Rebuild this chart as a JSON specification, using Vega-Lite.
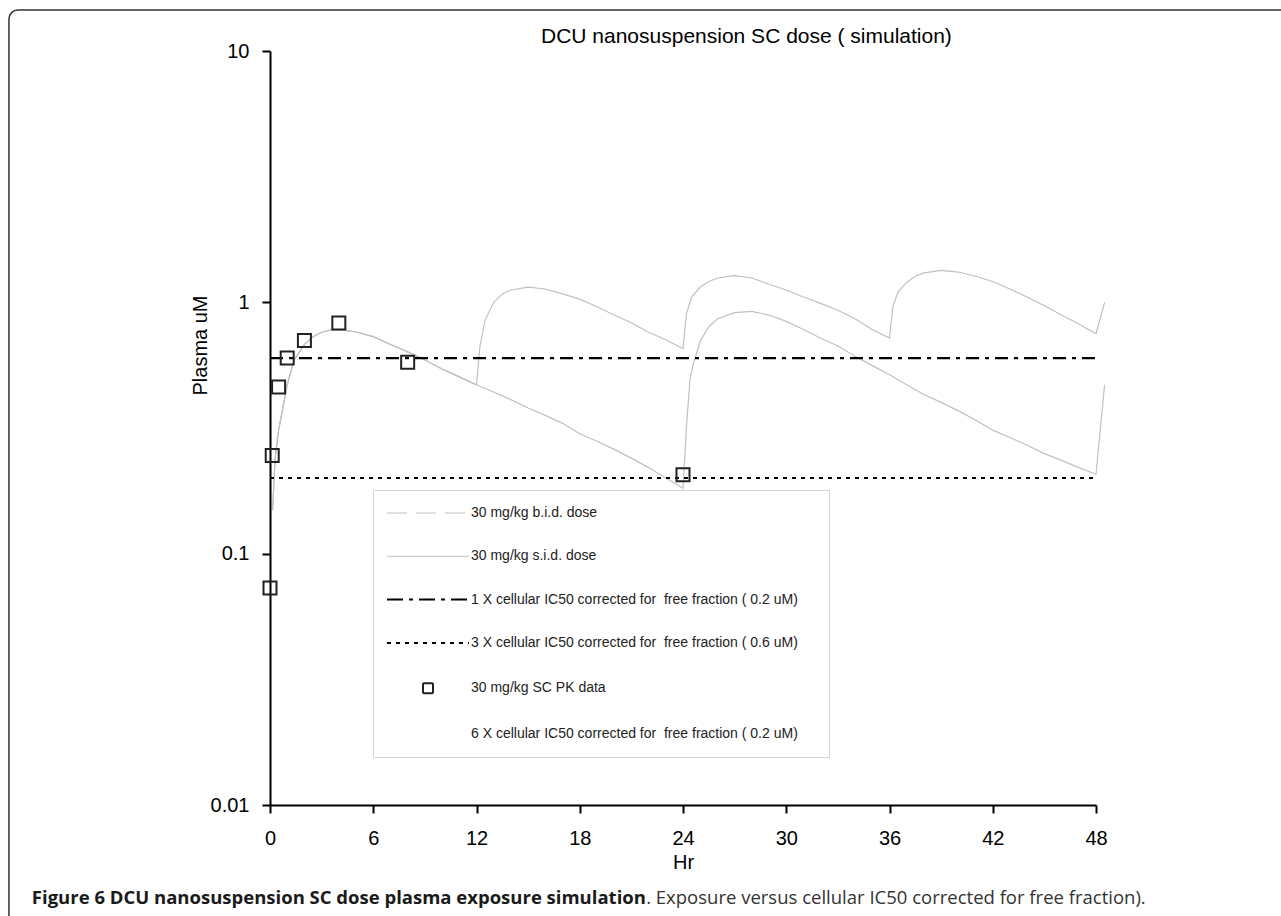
{
  "$schema": "https://vega.github.io/schema/vega-lite/v6.json",
  "autosize": {"type": "none"},
  "width": 826,
  "height": 754,
  "padding": {"left": 270, "top": 51, "right": 185, "bottom": 111},
  "background": "white",
  "title": {
    "text": "DCU nanosuspension SC dose ( simulation)",
    "anchor": "start",
    "frame": "group",
    "dx": 271,
    "offset": -38,
    "font": "Liberation Sans",
    "fontSize": 21,
    "fontWeight": "normal",
    "color": "#000000"
  },
  "datasets": {
    "frame": [{"name": "figure frame"}],
    "curves": [
      {"series": "30 mg/kg b.i.d. dose", "t": 0.15, "v": 0.149},
      {"series": "30 mg/kg b.i.d. dose", "t": 0.3, "v": 0.24},
      {"series": "30 mg/kg b.i.d. dose", "t": 0.5, "v": 0.31},
      {"series": "30 mg/kg b.i.d. dose", "t": 0.75, "v": 0.38},
      {"series": "30 mg/kg b.i.d. dose", "t": 1.0, "v": 0.47},
      {"series": "30 mg/kg b.i.d. dose", "t": 1.4, "v": 0.59},
      {"series": "30 mg/kg b.i.d. dose", "t": 2.0, "v": 0.68},
      {"series": "30 mg/kg b.i.d. dose", "t": 2.5, "v": 0.73},
      {"series": "30 mg/kg b.i.d. dose", "t": 3.0, "v": 0.76},
      {"series": "30 mg/kg b.i.d. dose", "t": 3.5, "v": 0.775},
      {"series": "30 mg/kg b.i.d. dose", "t": 4.0, "v": 0.778},
      {"series": "30 mg/kg b.i.d. dose", "t": 4.5, "v": 0.772},
      {"series": "30 mg/kg b.i.d. dose", "t": 5.0, "v": 0.762},
      {"series": "30 mg/kg b.i.d. dose", "t": 6.0, "v": 0.73},
      {"series": "30 mg/kg b.i.d. dose", "t": 7.0, "v": 0.68},
      {"series": "30 mg/kg b.i.d. dose", "t": 8.0, "v": 0.635},
      {"series": "30 mg/kg b.i.d. dose", "t": 9.0, "v": 0.59},
      {"series": "30 mg/kg b.i.d. dose", "t": 10.0, "v": 0.543},
      {"series": "30 mg/kg b.i.d. dose", "t": 11.0, "v": 0.505},
      {"series": "30 mg/kg b.i.d. dose", "t": 12.0, "v": 0.47},
      {"series": "30 mg/kg b.i.d. dose", "t": 12.2, "v": 0.668},
      {"series": "30 mg/kg b.i.d. dose", "t": 12.5, "v": 0.85},
      {"series": "30 mg/kg b.i.d. dose", "t": 13.0, "v": 1.0},
      {"series": "30 mg/kg b.i.d. dose", "t": 13.5, "v": 1.08},
      {"series": "30 mg/kg b.i.d. dose", "t": 14.0, "v": 1.12},
      {"series": "30 mg/kg b.i.d. dose", "t": 15.0, "v": 1.15},
      {"series": "30 mg/kg b.i.d. dose", "t": 16.0, "v": 1.13},
      {"series": "30 mg/kg b.i.d. dose", "t": 17.0, "v": 1.08},
      {"series": "30 mg/kg b.i.d. dose", "t": 18.0, "v": 1.03},
      {"series": "30 mg/kg b.i.d. dose", "t": 19.0, "v": 0.96},
      {"series": "30 mg/kg b.i.d. dose", "t": 20.0, "v": 0.89},
      {"series": "30 mg/kg b.i.d. dose", "t": 21.0, "v": 0.83},
      {"series": "30 mg/kg b.i.d. dose", "t": 22.0, "v": 0.76},
      {"series": "30 mg/kg b.i.d. dose", "t": 23.0, "v": 0.71},
      {"series": "30 mg/kg b.i.d. dose", "t": 24.0, "v": 0.655},
      {"series": "30 mg/kg b.i.d. dose", "t": 24.2, "v": 0.9},
      {"series": "30 mg/kg b.i.d. dose", "t": 24.5, "v": 1.05},
      {"series": "30 mg/kg b.i.d. dose", "t": 25.0, "v": 1.15},
      {"series": "30 mg/kg b.i.d. dose", "t": 25.5, "v": 1.21},
      {"series": "30 mg/kg b.i.d. dose", "t": 26.0, "v": 1.25},
      {"series": "30 mg/kg b.i.d. dose", "t": 27.0, "v": 1.276},
      {"series": "30 mg/kg b.i.d. dose", "t": 28.0, "v": 1.25},
      {"series": "30 mg/kg b.i.d. dose", "t": 29.0, "v": 1.18},
      {"series": "30 mg/kg b.i.d. dose", "t": 30.0, "v": 1.12},
      {"series": "30 mg/kg b.i.d. dose", "t": 31.0, "v": 1.05},
      {"series": "30 mg/kg b.i.d. dose", "t": 32.0, "v": 0.99},
      {"series": "30 mg/kg b.i.d. dose", "t": 33.0, "v": 0.93},
      {"series": "30 mg/kg b.i.d. dose", "t": 34.0, "v": 0.86},
      {"series": "30 mg/kg b.i.d. dose", "t": 35.0, "v": 0.78},
      {"series": "30 mg/kg b.i.d. dose", "t": 36.0, "v": 0.721},
      {"series": "30 mg/kg b.i.d. dose", "t": 36.2, "v": 0.964},
      {"series": "30 mg/kg b.i.d. dose", "t": 36.5, "v": 1.1},
      {"series": "30 mg/kg b.i.d. dose", "t": 37.0, "v": 1.2},
      {"series": "30 mg/kg b.i.d. dose", "t": 37.5, "v": 1.27},
      {"series": "30 mg/kg b.i.d. dose", "t": 38.0, "v": 1.31},
      {"series": "30 mg/kg b.i.d. dose", "t": 39.0, "v": 1.34},
      {"series": "30 mg/kg b.i.d. dose", "t": 40.0, "v": 1.32},
      {"series": "30 mg/kg b.i.d. dose", "t": 41.0, "v": 1.27},
      {"series": "30 mg/kg b.i.d. dose", "t": 42.0, "v": 1.21},
      {"series": "30 mg/kg b.i.d. dose", "t": 43.0, "v": 1.13},
      {"series": "30 mg/kg b.i.d. dose", "t": 44.0, "v": 1.05},
      {"series": "30 mg/kg b.i.d. dose", "t": 45.0, "v": 0.97},
      {"series": "30 mg/kg b.i.d. dose", "t": 46.0, "v": 0.89},
      {"series": "30 mg/kg b.i.d. dose", "t": 47.0, "v": 0.82},
      {"series": "30 mg/kg b.i.d. dose", "t": 48.0, "v": 0.75},
      {"series": "30 mg/kg b.i.d. dose", "t": 48.5, "v": 1.0},
      {"series": "30 mg/kg s.i.d. dose", "t": 0.15, "v": 0.149},
      {"series": "30 mg/kg s.i.d. dose", "t": 0.3, "v": 0.24},
      {"series": "30 mg/kg s.i.d. dose", "t": 0.5, "v": 0.31},
      {"series": "30 mg/kg s.i.d. dose", "t": 0.75, "v": 0.38},
      {"series": "30 mg/kg s.i.d. dose", "t": 1.0, "v": 0.47},
      {"series": "30 mg/kg s.i.d. dose", "t": 1.4, "v": 0.59},
      {"series": "30 mg/kg s.i.d. dose", "t": 2.0, "v": 0.68},
      {"series": "30 mg/kg s.i.d. dose", "t": 2.5, "v": 0.73},
      {"series": "30 mg/kg s.i.d. dose", "t": 3.0, "v": 0.76},
      {"series": "30 mg/kg s.i.d. dose", "t": 3.5, "v": 0.775},
      {"series": "30 mg/kg s.i.d. dose", "t": 4.0, "v": 0.778},
      {"series": "30 mg/kg s.i.d. dose", "t": 4.5, "v": 0.772},
      {"series": "30 mg/kg s.i.d. dose", "t": 5.0, "v": 0.762},
      {"series": "30 mg/kg s.i.d. dose", "t": 6.0, "v": 0.73},
      {"series": "30 mg/kg s.i.d. dose", "t": 7.0, "v": 0.68},
      {"series": "30 mg/kg s.i.d. dose", "t": 8.0, "v": 0.635},
      {"series": "30 mg/kg s.i.d. dose", "t": 9.0, "v": 0.59},
      {"series": "30 mg/kg s.i.d. dose", "t": 10.0, "v": 0.543},
      {"series": "30 mg/kg s.i.d. dose", "t": 11.0, "v": 0.505},
      {"series": "30 mg/kg s.i.d. dose", "t": 12.0, "v": 0.47},
      {"series": "30 mg/kg s.i.d. dose", "t": 13.0, "v": 0.44},
      {"series": "30 mg/kg s.i.d. dose", "t": 14.0, "v": 0.41},
      {"series": "30 mg/kg s.i.d. dose", "t": 15.0, "v": 0.38},
      {"series": "30 mg/kg s.i.d. dose", "t": 16.0, "v": 0.355},
      {"series": "30 mg/kg s.i.d. dose", "t": 17.0, "v": 0.33},
      {"series": "30 mg/kg s.i.d. dose", "t": 18.0, "v": 0.3},
      {"series": "30 mg/kg s.i.d. dose", "t": 19.0, "v": 0.28},
      {"series": "30 mg/kg s.i.d. dose", "t": 20.0, "v": 0.26},
      {"series": "30 mg/kg s.i.d. dose", "t": 21.0, "v": 0.24},
      {"series": "30 mg/kg s.i.d. dose", "t": 22.0, "v": 0.22},
      {"series": "30 mg/kg s.i.d. dose", "t": 23.0, "v": 0.2},
      {"series": "30 mg/kg s.i.d. dose", "t": 24.0, "v": 0.182},
      {"series": "30 mg/kg s.i.d. dose", "t": 24.2, "v": 0.32},
      {"series": "30 mg/kg s.i.d. dose", "t": 24.4, "v": 0.49},
      {"series": "30 mg/kg s.i.d. dose", "t": 24.6, "v": 0.57},
      {"series": "30 mg/kg s.i.d. dose", "t": 25.0, "v": 0.7},
      {"series": "30 mg/kg s.i.d. dose", "t": 25.5, "v": 0.8},
      {"series": "30 mg/kg s.i.d. dose", "t": 26.0, "v": 0.86},
      {"series": "30 mg/kg s.i.d. dose", "t": 27.0, "v": 0.91},
      {"series": "30 mg/kg s.i.d. dose", "t": 28.0, "v": 0.92},
      {"series": "30 mg/kg s.i.d. dose", "t": 29.0, "v": 0.89},
      {"series": "30 mg/kg s.i.d. dose", "t": 30.0, "v": 0.84},
      {"series": "30 mg/kg s.i.d. dose", "t": 31.0, "v": 0.78},
      {"series": "30 mg/kg s.i.d. dose", "t": 32.0, "v": 0.72},
      {"series": "30 mg/kg s.i.d. dose", "t": 33.0, "v": 0.67},
      {"series": "30 mg/kg s.i.d. dose", "t": 34.0, "v": 0.61},
      {"series": "30 mg/kg s.i.d. dose", "t": 35.0, "v": 0.56},
      {"series": "30 mg/kg s.i.d. dose", "t": 36.0, "v": 0.515},
      {"series": "30 mg/kg s.i.d. dose", "t": 37.0, "v": 0.47},
      {"series": "30 mg/kg s.i.d. dose", "t": 38.0, "v": 0.43},
      {"series": "30 mg/kg s.i.d. dose", "t": 39.0, "v": 0.4},
      {"series": "30 mg/kg s.i.d. dose", "t": 40.0, "v": 0.37},
      {"series": "30 mg/kg s.i.d. dose", "t": 41.0, "v": 0.34},
      {"series": "30 mg/kg s.i.d. dose", "t": 42.0, "v": 0.31},
      {"series": "30 mg/kg s.i.d. dose", "t": 43.0, "v": 0.29},
      {"series": "30 mg/kg s.i.d. dose", "t": 44.0, "v": 0.27},
      {"series": "30 mg/kg s.i.d. dose", "t": 45.0, "v": 0.25},
      {"series": "30 mg/kg s.i.d. dose", "t": 46.0, "v": 0.235},
      {"series": "30 mg/kg s.i.d. dose", "t": 47.0, "v": 0.22},
      {"series": "30 mg/kg s.i.d. dose", "t": 48.0, "v": 0.207},
      {"series": "30 mg/kg s.i.d. dose", "t": 48.5, "v": 0.47}
    ],
    "thresholds": [
      {"series": "1 X cellular IC50 corrected for \u00a0free fraction ( 0.2 uM)", "t": 0, "v": 0.6},
      {"series": "1 X cellular IC50 corrected for \u00a0free fraction ( 0.2 uM)", "t": 48, "v": 0.6},
      {"series": "3 X cellular IC50 corrected for \u00a0free fraction ( 0.6 uM)", "t": 0, "v": 0.2},
      {"series": "3 X cellular IC50 corrected for \u00a0free fraction ( 0.6 uM)", "t": 48, "v": 0.2}
    ],
    "pk": [
      {"series": "30 mg/kg SC PK data", "t": 0.0, "v": 0.073},
      {"series": "30 mg/kg SC PK data", "t": 0.13, "v": 0.246},
      {"series": "30 mg/kg SC PK data", "t": 0.5, "v": 0.46},
      {"series": "30 mg/kg SC PK data", "t": 1.0, "v": 0.6},
      {"series": "30 mg/kg SC PK data", "t": 2.0, "v": 0.705},
      {"series": "30 mg/kg SC PK data", "t": 4.0, "v": 0.827},
      {"series": "30 mg/kg SC PK data", "t": 8.0, "v": 0.577},
      {"series": "30 mg/kg SC PK data", "t": 24.0, "v": 0.206}
    ],
    "caption": [
      {"part": "bold", "text": "Figure 6 DCU nanosuspension SC dose plasma exposure simulation"},
      {"part": "normal", "text": ". Exposure versus cellular IC50 corrected for free fraction)."}
    ]
  },
  "layer": [
    {
      "data": {"name": "frame"},
      "mark": {"type": "rect", "fill": "transparent", "stroke": "#333333", "strokeWidth": 1.5, "cornerRadius": 9, "clip": false},
      "encoding": {
        "x": {"datum": -15.17, "type": "quantitative"},
        "x2": {"datum": 80},
        "y": {"datum": 14.56, "type": "quantitative"},
        "y2": {"datum": 0.0001}
      }
    },
    {
      "data": {"name": "curves"},
      "mark": {"type": "line", "strokeWidth": 1.2, "clip": false},
      "encoding": {
        "x": {
          "field": "t", "type": "quantitative",
          "scale": {"domain": [0, 48], "nice": false, "zero": false},
          "axis": {
            "values": [0, 6, 12, 18, 24, 30, 36, 42, 48],
            "title": "Hr",
            "titleY": 57,
            "titleBaseline": "middle",
            "labelBaseline": "middle",
            "labelPadding": 25,
            "labelFlush": false,
            "labelOverlap": false,
            "encode": {"ticks": {"update": {"y": {"value": -8}}}}
          }
        },
        "y": {
          "field": "v", "type": "quantitative",
          "scale": {"type": "log", "domain": [0.01, 10], "nice": false},
          "axis": {
            "values": [0.01, 0.1, 1, 10],
            "format": "~g",
            "title": "Plasma uM",
            "titleX": -70,
            "titleY": 294,
            "titleAngle": 270,
            "titleAlign": "center",
            "titleBaseline": "middle",
            "labelPadding": 13,
            "labelBaseline": "middle",
            "labelFlush": false,
            "labelOverlap": false,
            "encode": {"ticks": {"update": {"x": {"value": 8}}}}
          }
        },
        "color": {
          "field": "series", "type": "nominal",
          "scale": {
            "domain": [
              "30 mg/kg b.i.d. dose",
              "30 mg/kg s.i.d. dose",
              "1 X cellular IC50 corrected for \u00a0free fraction ( 0.2 uM)",
              "3 X cellular IC50 corrected for \u00a0free fraction ( 0.6 uM)",
              "30 mg/kg SC PK data",
              "6 X cellular IC50 corrected for \u00a0free fraction ( 0.2 uM)"
            ],
            "range": ["#c0c0c0", "#c0c0c0", "#000000", "#000000", "#222222", "rgba(255,255,255,0)"]
          },
          "legend": {
            "title": "\u00a0",
            "titleOrient": "right",
            "titleFontSize": 2,
            "titlePadding": 15,
            "orient": "none",
            "legendX": 103,
            "legendY": 439,
            "direction": "vertical",
            "padding": 16,
            "strokeColor": "#d4d4d4",
            "fillColor": "#ffffff",
            "symbolSize": 100,
            "symbolOffset": 32,
            "labelOffset": 36,
            "rowPadding": 29.3,
            "labelLimit": 800,
            "labelFont": "Liberation Sans",
            "labelFontSize": 14,
            "labelColor": "#222222",
            "encode": {
              "symbols": {
                "update": {
                  "shape": {"signal": "datum.value === '30 mg/kg SC PK data' ? 'square' : 'stroke'"},
                  "size": {"signal": "datum.value === '30 mg/kg SC PK data' ? 100 : 6724"},
                  "strokeDash": {"signal": "datum.value === '30 mg/kg b.i.d. dose' ? [20, 9] : (indexof(datum.value, '1 X') === 0 ? [16, 6, 4, 6] : (indexof(datum.value, '3 X') === 0 ? [4, 5] : [1, 0]))"},
                  "strokeWidth": {"signal": "(datum.value === '30 mg/kg b.i.d. dose' || datum.value === '30 mg/kg s.i.d. dose') ? 1 : 2"},
                  "stroke": {"scale": "color", "field": "value"},
                  "fill": {"value": "transparent"},
                  "opacity": {"value": 1}
                }
              }
            }
          }
        }
      }
    },
    {
      "data": {"name": "thresholds"},
      "transform": [{"filter": "indexof(datum.series, '1 X') === 0"}],
      "mark": {"type": "line", "strokeWidth": 2.2, "strokeDash": [13, 6, 4, 6]},
      "encoding": {
        "x": {"field": "t", "type": "quantitative"},
        "y": {"field": "v", "type": "quantitative"},
        "color": {"field": "series", "type": "nominal"}
      }
    },
    {
      "data": {"name": "thresholds"},
      "transform": [{"filter": "indexof(datum.series, '3 X') === 0"}],
      "mark": {"type": "line", "strokeWidth": 2.2, "strokeDash": [4, 5]},
      "encoding": {
        "x": {"field": "t", "type": "quantitative"},
        "y": {"field": "v", "type": "quantitative"},
        "color": {"field": "series", "type": "nominal"}
      }
    },
    {
      "data": {"name": "pk"},
      "mark": {"type": "point", "shape": "square", "filled": false, "size": 169, "strokeWidth": 2, "opacity": 1},
      "encoding": {
        "x": {"field": "t", "type": "quantitative"},
        "y": {"field": "v", "type": "quantitative"},
        "color": {"field": "series", "type": "nominal"}
      }
    },
    {
      "data": {"name": "caption"},
      "transform": [{"filter": "datum.part === 'bold'"}],
      "mark": {"type": "text", "align": "left", "baseline": "alphabetic", "font": "Open Sans", "fontSize": 18.5, "fontWeight": "bold", "color": "#1a1a1a", "clip": false},
      "encoding": {
        "x": {"datum": -13.84, "type": "quantitative"},
        "y": {"datum": 0.00404, "type": "quantitative"},
        "text": {"field": "text"}
      }
    },
    {
      "data": {"name": "caption"},
      "transform": [{"filter": "datum.part === 'normal'"}],
      "mark": {"type": "text", "align": "left", "baseline": "alphabetic", "font": "Open Sans", "fontSize": 18.5, "fontWeight": "normal", "color": "#333333", "clip": false},
      "encoding": {
        "x": {"datum": 21.86, "type": "quantitative"},
        "y": {"datum": 0.00404, "type": "quantitative"},
        "text": {"field": "text"}
      }
    }
  ],
  "config": {
    "view": {"stroke": null},
    "axis": {
      "grid": false,
      "domainColor": "#000000",
      "domainWidth": 2,
      "tickColor": "#000000",
      "tickWidth": 2,
      "tickSize": 8,
      "labelFont": "Liberation Sans",
      "labelFontSize": 20,
      "labelColor": "#000000",
      "titleFont": "Liberation Sans",
      "titleFontSize": 20,
      "titleFontWeight": "normal",
      "titleColor": "#000000"
    }
  }
}
